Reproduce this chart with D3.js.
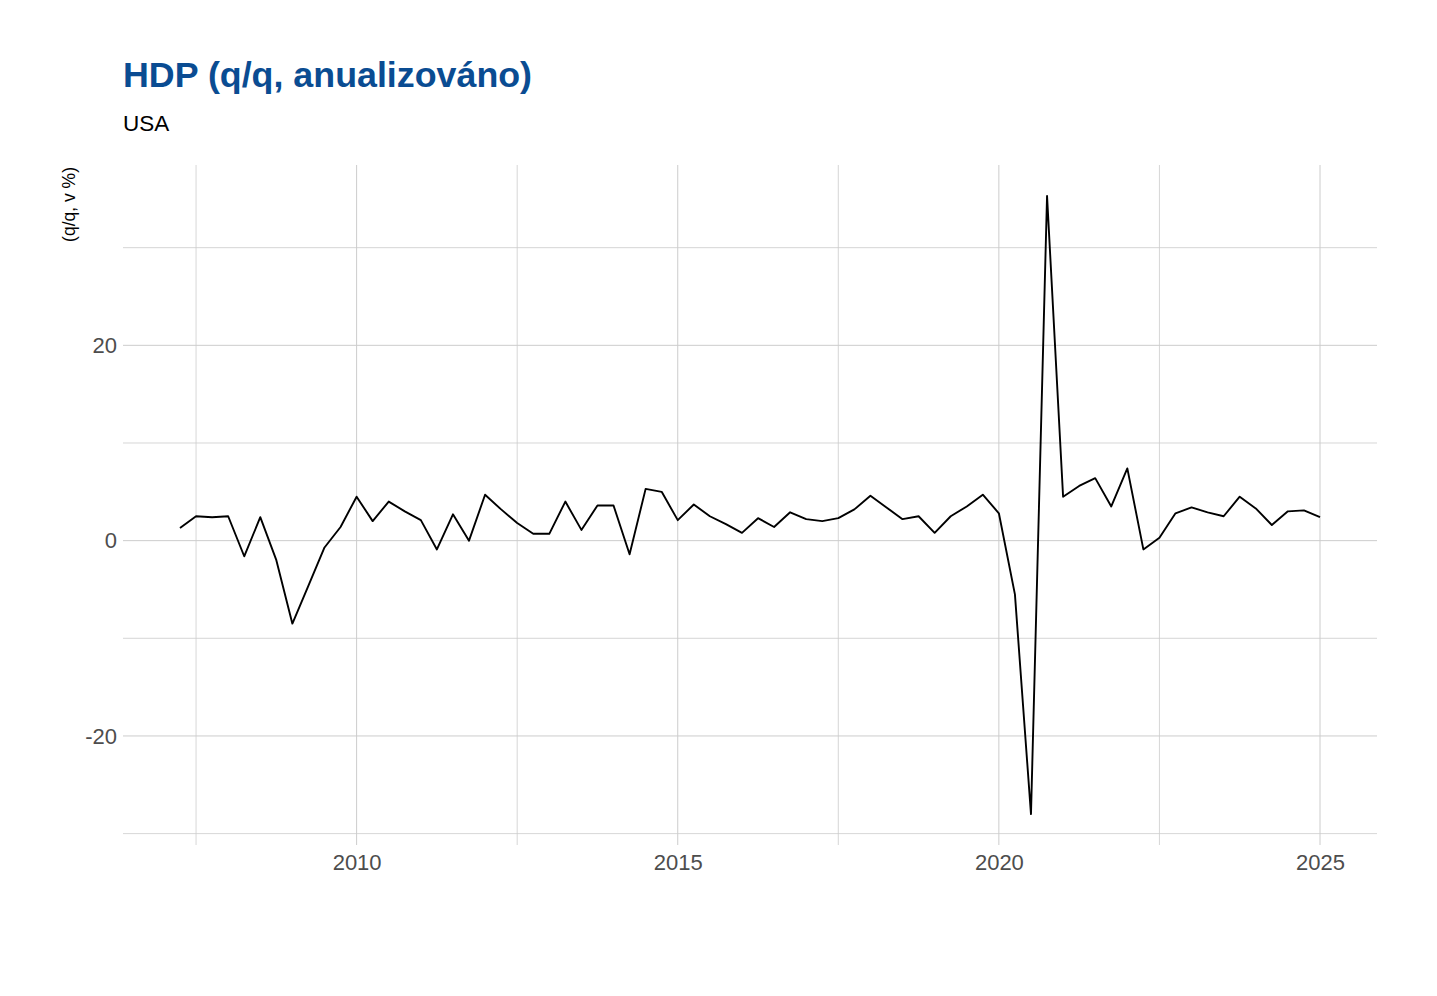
<!DOCTYPE html>
<html>
<head>
<meta charset="utf-8">
<script src="https://cdn.jsdelivr.net/npm/d3@7"></script>
<style>
  html, body { margin: 0; padding: 0; background: #ffffff; }
  svg { display: block; font-family: "Liberation Sans", Arial, sans-serif; }
</style>
</head>
<body>
<svg id="chart" width="1437" height="996"></svg>
<script>
// ---- data (US real GDP, q/q annualized, %) ----
const years = [
  2007,2007,2007,2007, 2008,2008,2008,2008, 2009,2009,2009,2009,
  2010,2010,2010,2010, 2011,2011,2011,2011, 2012,2012,2012,2012,
  2013,2013,2013,2013, 2014,2014,2014,2014, 2015,2015,2015,2015,
  2016,2016,2016,2016, 2017,2017,2017,2017, 2018,2018,2018,2018,
  2019,2019,2019,2019, 2020,2020,2020,2020, 2021,2021,2021,2021,
  2022,2022,2022,2022, 2023,2023,2023,2023, 2024,2024,2024,2024
];
const quarters = [
  1,2,3,4, 1,2,3,4, 1,2,3,4, 1,2,3,4, 1,2,3,4, 1,2,3,4,
  1,2,3,4, 1,2,3,4, 1,2,3,4, 1,2,3,4, 1,2,3,4, 1,2,3,4,
  1,2,3,4, 1,2,3,4, 1,2,3,4, 1,2,3,4, 1,2,3,4, 1,2,3,4
];
const gdpGrowth = [
  1.3, 2.5, 2.4, 2.5,   -1.6, 2.4, -2.0, -8.5,   -4.6, -0.7, 1.4, 4.5,
  2.0, 4.0, 3.0, 2.1,   -0.9, 2.7, 0.0, 4.7,     3.2, 1.8, 0.7, 0.7,
  4.0, 1.1, 3.6, 3.6,   -1.4, 5.3, 5.0, 2.1,     3.7, 2.5, 1.7, 0.8,
  2.3, 1.4, 2.9, 2.2,   2.0, 2.3, 3.2, 4.6,      3.4, 2.2, 2.5, 0.8,
  2.5, 3.5, 4.7, 2.8,   -5.5, -28.0, 35.3, 4.5,  5.6, 6.4, 3.5, 7.4,
  -0.9, 0.3, 2.8, 3.4,  2.9, 2.5, 4.5, 3.3,      1.6, 3.0, 3.1, 2.4
];
const xMajorTicks = [2010, 2015, 2020, 2025];
const xMinorTicks = [2007.5, 2012.5, 2017.5, 2022.5];
const yMajorTicks = [-20, 0, 20];
const yMinorTicks = [-30, -10, 10, 30];

const titleText = "HDP (q/q, anualizováno)";
const subtitleText = "USA";
const yAxisTitle = "(q/q, v %)";

// ---- build ----
const data = years.map((y, i) => ({ t: y + quarters[i] / 4, v: gdpGrowth[i] }));

const svg = d3.select("#chart");
const panel = { left: 123, right: 1377, top: 165, bottom: 845 };

const xExt = d3.extent(data, d => d.t);
const yExt = d3.extent(data, d => d.v);
const xPad = (xExt[1] - xExt[0]) * 0.05;
const yPad = (yExt[1] - yExt[0]) * 0.05;

const x = d3.scaleLinear()
  .domain([xExt[0] - xPad, xExt[1] + xPad])
  .range([panel.left, panel.right]);
const y = d3.scaleLinear()
  .domain([yExt[0] - yPad, yExt[1] + yPad])
  .range([panel.bottom, panel.top]);

const gridColor = "#cccccc";
const grid = svg.append("g");

// minor then major gridlines
grid.selectAll("line.hmin").data(yMinorTicks).join("line")
  .attr("x1", panel.left).attr("x2", panel.right)
  .attr("y1", d => y(d)).attr("y2", d => y(d))
  .attr("stroke", gridColor).attr("stroke-width", 0.8);
grid.selectAll("line.vmin").data(xMinorTicks).join("line")
  .attr("x1", d => x(d)).attr("x2", d => x(d))
  .attr("y1", panel.top).attr("y2", panel.bottom)
  .attr("stroke", gridColor).attr("stroke-width", 0.8);
grid.selectAll("line.hmaj").data(yMajorTicks).join("line")
  .attr("x1", panel.left).attr("x2", panel.right)
  .attr("y1", d => y(d)).attr("y2", d => y(d))
  .attr("stroke", gridColor).attr("stroke-width", 1);
grid.selectAll("line.vmaj").data(xMajorTicks).join("line")
  .attr("x1", d => x(d)).attr("x2", d => x(d))
  .attr("y1", panel.top).attr("y2", panel.bottom)
  .attr("stroke", gridColor).attr("stroke-width", 1);

// axes (labels only, ggplot minimal style)
const fmt = d => String(d);
const xAxis = d3.axisBottom(x).tickValues(xMajorTicks).tickFormat(fmt).tickSize(0).tickPadding(0);
const xg = svg.append("g").attr("transform", `translate(0,${panel.bottom + 9})`).call(xAxis);
xg.select(".domain").remove();
xg.selectAll("text").attr("fill", "#4d4d4d").attr("font-size", "22px")
  .attr("dy", "0.71em").attr("font-family", "Liberation Sans, Arial, sans-serif");

const yAxis = d3.axisLeft(y).tickValues(yMajorTicks).tickFormat(fmt).tickSize(0).tickPadding(0);
const yg = svg.append("g").attr("transform", `translate(${panel.left - 6},0)`).call(yAxis);
yg.select(".domain").remove();
yg.selectAll("text").attr("fill", "#4d4d4d").attr("font-size", "22px")
  .attr("font-family", "Liberation Sans, Arial, sans-serif");

// line
const line = d3.line().x(d => x(d.t)).y(d => y(d.v));
svg.append("path").datum(data)
  .attr("d", line)
  .attr("fill", "none")
  .attr("stroke", "#000000")
  .attr("stroke-width", 1.9)
  .attr("stroke-linejoin", "round");

// titles
svg.append("text").attr("x", panel.left).attr("y", 87)
  .attr("font-size", "35.8px").attr("font-weight", "bold").attr("fill", "#0a4c92")
  .text(titleText);
svg.append("text").attr("x", panel.left).attr("y", 131)
  .attr("font-size", "22.5px").attr("fill", "#000000")
  .text(subtitleText);
svg.append("text")
  .attr("transform", `translate(75,${panel.top + 2}) rotate(-90)`)
  .attr("text-anchor", "end")
  .attr("font-size", "17.5px").attr("fill", "#000000")
  .text(yAxisTitle);
</script>
</body>
</html>
